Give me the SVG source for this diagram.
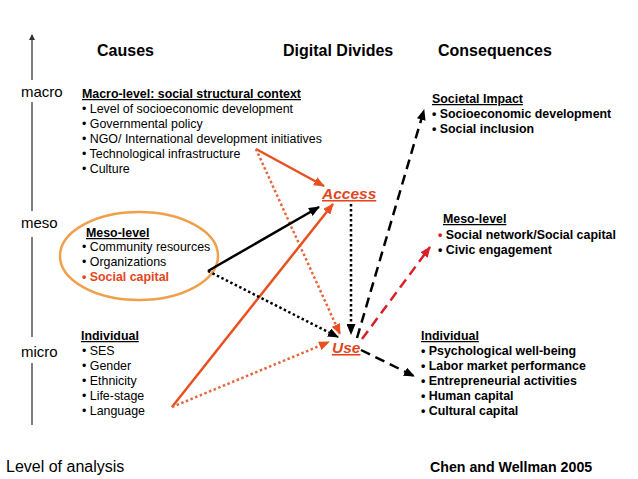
<svg xmlns="http://www.w3.org/2000/svg" width="638" height="479" viewBox="0 0 638 479">
<style>
text{font-family:"Liberation Sans",Arial,sans-serif;fill:#000}
.h{font-size:16px;font-weight:bold}
.lv{font-size:15px}
.t{font-size:12.4px}
.b{font-size:12.4px;font-weight:bold}
.u{text-decoration:underline}
.or{fill:#E2461E}
.dd{font-size:15.5px;font-weight:bold;font-style:italic;text-decoration:underline;fill:#E2461E}
.axis{stroke:#555;stroke-width:1.5}
.c{fill:none;stroke-width:2.5}
.solid-o{stroke:#E8501F}
.dot-o{stroke:#E8643A;stroke-dasharray:2.5 2.5}
.solid-k{stroke:#000}
.dot-k{stroke:#000;stroke-dasharray:2.5 2.5}
.dash-k{stroke:#000;stroke-dasharray:10 6}
.dash-r{stroke:#D9202A;stroke-dasharray:10 6}
</style>
<defs>
<marker id="ao" markerUnits="userSpaceOnUse" markerWidth="11" markerHeight="9" viewBox="0 0 11 9" refX="10" refY="4.5" orient="auto"><path d="M0,0 L11,4.5 L0,9 z" fill="#E8501F"/></marker>
<marker id="ak" markerUnits="userSpaceOnUse" markerWidth="11" markerHeight="9" viewBox="0 0 11 9" refX="10" refY="4.5" orient="auto"><path d="M0,0 L11,4.5 L0,9 z" fill="#000"/></marker>
<marker id="ar" markerUnits="userSpaceOnUse" markerWidth="11" markerHeight="9" viewBox="0 0 11 9" refX="10" refY="4.5" orient="auto"><path d="M0,0 L11,4.5 L0,9 z" fill="#D9202A"/></marker>
<marker id="ax" markerUnits="userSpaceOnUse" markerWidth="6" markerHeight="6" viewBox="0 0 6 6" refX="5" refY="3" orient="auto"><path d="M0,0 L6,3 L0,6 z" fill="#333"/></marker>
</defs>

<g id="axis">
<line class="axis" x1="32" y1="80" x2="32" y2="35" marker-end="url(#ax)"/>
<line class="axis" x1="32" y1="102" x2="32" y2="211"/>
<line class="axis" x1="32" y1="237" x2="32" y2="337"/>
<line class="axis" x1="32" y1="363" x2="32" y2="425"/>
<text class="lv" x="21" y="97">macro</text>
<text class="lv" x="21" y="228">meso</text>
<text class="lv" x="21" y="357">micro</text>
<text x="6" y="472" style="font-size:16px">Level of analysis</text>
</g>

<g id="titles">
<text class="h" x="97" y="56">Causes</text>
<text class="h" x="283" y="56">Digital Divides</text>
<text class="h" x="438" y="56">Consequences</text>
</g>

<g id="macro-causes">
<text class="b u" x="82" y="98">Macro-level: social structural context</text>
<text class="t" x="82" y="113">• Level of socioeconomic development</text>
<text class="t" x="82" y="128">• Governmental policy</text>
<text class="t" x="82" y="143">• NGO/ International development initiatives</text>
<text class="t" x="82" y="158">• Technological infrastructure</text>
<text class="t" x="82" y="173">• Culture</text>
</g>

<g id="meso-causes">
<ellipse cx="139" cy="256" rx="79" ry="44" fill="none" stroke="#F0A04B" stroke-width="2.5"/>
<text class="b u" x="86" y="237">Meso-level</text>
<text class="t" x="82" y="251">• Community resources</text>
<text class="t" x="82" y="266">• Organizations</text>
<text class="b or" x="82" y="281">• Social capital</text>
</g>

<g id="micro-causes">
<text class="b u" x="81" y="340">Individual</text>
<text class="t" x="82" y="355">• SES</text>
<text class="t" x="82" y="370">• Gender</text>
<text class="t" x="82" y="385">• Ethnicity</text>
<text class="t" x="82" y="400">• Life-stage</text>
<text class="t" x="82" y="415">• Language</text>
</g>

<g id="access"><text class="dd" x="322" y="199">Access</text></g>
<g id="use"><text class="dd" x="332" y="353">Use</text></g>

<g id="societal-impact">
<text class="b u" x="432" y="103">Societal Impact</text>
<text class="b" x="432" y="118">• Socioeconomic development</text>
<text class="b" x="432" y="133">• Social inclusion</text>
</g>

<g id="meso-consequences">
<text class="b u" x="443" y="223">Meso-level</text>
<text class="b" x="438" y="239"><tspan fill="#D9202A">•</tspan> Social network/Social capital</text>
<text class="b" x="438" y="254">• Civic engagement</text>
</g>

<g id="micro-consequences">
<text class="b u" x="421" y="340">Individual</text>
<text class="b" x="421" y="355">• Psychological well-being</text>
<text class="b" x="421" y="370">• Labor market performance</text>
<text class="b" x="421" y="385">• Entrepreneurial activities</text>
<text class="b" x="421" y="400">• Human capital</text>
<text class="b" x="421" y="415">• Cultural capital</text>
</g>

<g id="citation"><text x="430" y="472" style="font-size:14.2px;font-weight:bold">Chen and Wellman 2005</text></g>

<g id="connectors">
<line class="c solid-o" x1="256" y1="149" x2="324" y2="186" marker-end="url(#ao)"/>
<line class="c dot-o" x1="256" y1="149" x2="340" y2="334" marker-end="url(#ao)"/>
<line class="c solid-k" x1="208" y1="271" x2="319" y2="207" marker-end="url(#ak)"/>
<line class="c solid-o" x1="172" y1="407" x2="333" y2="204" marker-end="url(#ao)"/>
<line class="c dot-o" x1="172" y1="407" x2="329" y2="342" marker-end="url(#ao)"/>
<line class="c dot-k" x1="208" y1="271" x2="338" y2="337" marker-end="url(#ak)"/>
<line class="c dot-k" x1="351" y1="204" x2="351" y2="334" marker-end="url(#ak)"/>
<line class="c dash-k" x1="357" y1="338" x2="424" y2="110" marker-end="url(#ak)"/>
<line class="c dash-r" x1="362" y1="339" x2="430" y2="247" marker-end="url(#ar)"/>
<line class="c dash-k" x1="361" y1="350" x2="414" y2="376" marker-end="url(#ak)"/>
</g>
</svg>
